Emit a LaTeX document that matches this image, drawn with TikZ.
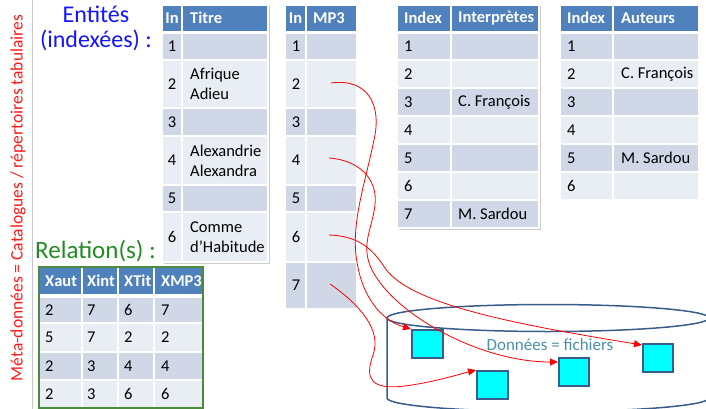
\documentclass[tikz,border=0pt]{standalone}
\usepackage{fontspec}
\setmainfont{Carlito}
\usetikzlibrary{arrows.meta}
\definecolor{hdr}{HTML}{4F81BD}
\definecolor{dk}{HTML}{D0D8E8}
\definecolor{lt}{HTML}{E9EDF4}
\definecolor{cylc}{HTML}{385D8A}
\definecolor{datac}{HTML}{4A90A8}
\definecolor{relgreen}{HTML}{228B22}
\definecolor{entblue}{HTML}{1414FF}
\definecolor{metared}{HTML}{FF1A1A}
\definecolor{tabgreen}{HTML}{4E8A3E}
\definecolor{filecyan}{HTML}{00FFFF}
\newcommand\mycell[5]{\path[fill=#5,draw=white,line width=1.5pt] (#1,#3) rectangle (#2,#4);}
\begin{document}
\begin{tikzpicture}[x=1pt,y=-1pt,
  tt/.style={inner sep=0pt,anchor=west,align=left,font=\fontsize{16.5}{20}\selectfont},
  tc/.style={inner sep=0pt,anchor=center,font=\fontsize{16.5}{20}\selectfont},
  th/.style={inner sep=0pt,anchor=west,font=\fontsize{16.5}{20}\selectfont\bfseries,text=white},
  thc/.style={th,anchor=center},
  big/.style={inner sep=0pt,font=\fontsize{24}{24.5}\selectfont},
  arr/.style={red,line width=0.8pt,-{Triangle[length=8pt,width=7pt]}},
  filebox/.style={draw=cylc,fill=filecyan,line width=1.5pt,minimum width=30pt,minimum height=28pt,inner sep=0pt,anchor=north west},
]
\useasboundingbox (0,0) rectangle (706,409);

% left labels
\draw[gray!45,line width=1pt] (32,0) -- (32,409);
\node[rotate=90,text=metared,inner sep=0pt,font=\fontsize{17.5}{20}\selectfont] (meta) at (18,198) {Méta-données = Catalogues / répertoires tabulaires};
\node[big,text=entblue,align=center] (ent) at (96,28.5) {Entités\\(indexées) :};
\node[big,text=relgreen,anchor=base west,font=\fontsize{25}{24}\selectfont] (rel) at (35,258) {Relation(s) :};

% Titre table
\fill[gray!40] (163.5,6.5) rectangle (269.5,263.5);
\mycell{162}{182}{5}{31.5}{hdr}
\mycell{182}{268}{5}{31.5}{hdr}
\node[thc] (tih) at (172,18) {In};
\node[th] (tth) at (190,18) {Titre};
\foreach \ya/\yb/\cl/\n/\t in {33/60/dk/1/{},60/108/lt/2/{Afrique\\Adieu},108/136/dk/3/{},136/185/lt/4/{Alexandrie\\Alexandra},185/212/dk/5/{},212/262/lt/6/{Comme\\d’Habitude}}{
  \mycell{162}{182}{\ya}{\yb}{\cl}
  \mycell{182}{268}{\ya}{\yb}{\cl}
  \node[tc] (ti\n) at (172,{(\ya+\yb)/2}) {\n};
  \node[tt] (tt\n) at (190,{(\ya+\yb)/2}) {\t};
}

% MP3 table
\mycell{285}{306}{5}{31.5}{hdr}
\mycell{306}{357}{5}{31.5}{hdr}
\node[thc] (mih) at (295.5,18) {In};
\node[th] (mmh) at (313,18) {MP3};
\foreach \ya/\yb/\cl/\n in {33/60/dk/1,60/108/lt/2,108/136/dk/3,136/185/lt/4,185/212/dk/5,212/262/lt/6,262/309/dk/7}{
  \mycell{285}{306}{\ya}{\yb}{\cl}
  \mycell{306}{357}{\ya}{\yb}{\cl}
  \node[tc] (mi\n) at (296,{(\ya+\yb)/2}) {\n};
}
\coordinate (s2) at (331,83);
\coordinate (s4) at (329,158);
\coordinate (s6) at (329,235);
\coordinate (s7) at (330,284);

% Interpretes table
\fill[gray!40] (398.5,6.5) rectangle (540.5,229.5);
\mycell{397}{451}{5}{31.5}{hdr}
\mycell{451}{539}{5}{31.5}{hdr}
\node[th] (iih) at (404,18) {Index};
\node[th] (inh) at (458,18) {Interprètes};
\foreach \ya/\yb/\cl/\n/\t in {33/60/dk/1/{},60/88/lt/2/{},88/116/dk/3/{C. François},116/144/lt/4/{},144/172/dk/5/{},172/200/lt/6/{},200/228/dk/7/{M. Sardou}}{
  \mycell{397}{451}{\ya}{\yb}{\cl}
  \mycell{451}{539}{\ya}{\yb}{\cl}
  \node[tt] (ii\n) at (404,{(\ya+\yb)/2}) {\n};
  \node[tt] (in\n) at (458,{(\ya+\yb)/2}) {\t};
}

% Auteurs table
\mycell{560}{613}{5}{31.5}{hdr}
\mycell{613}{699}{5}{31.5}{hdr}
\node[th] (aih) at (567,18) {Index};
\node[th] (anh) at (621,18) {Auteurs};
\foreach \ya/\yb/\cl/\n/\t in {33/60/dk/1/{},60/88/lt/2/{C. François},88/116/dk/3/{},116/144/lt/4/{},144/172/dk/5/{M. Sardou},172/200/lt/6/{}}{
  \mycell{560}{613}{\ya}{\yb}{\cl}
  \mycell{613}{699}{\ya}{\yb}{\cl}
  \node[tt] (ai\n) at (567,{(\ya+\yb)/2}) {\n};
  \node[tt] (an\n) at (621,{(\ya+\yb)/2}) {\t};
}

% Relation table
\mycell{39}{82}{267}{295}{hdr}
\mycell{82}{118}{267}{295}{hdr}
\mycell{118}{154}{267}{295}{hdr}
\mycell{154}{203}{267}{295}{hdr}
\node[th] (rh1) at (45,281) {Xaut};
\node[th] (rh2) at (87,281) {Xint};
\node[th] (rh3) at (124,281) {XTit};
\node[th] (rh4) at (161,281) {XMP3};
\foreach \ya/\yb/\cl/\va/\vb/\vc/\vd [count=\r] in {297/323/dk/2/7/6/7,323/352/lt/5/7/2/2,352/380/dk/2/3/4/4,380/408/lt/2/3/6/6}{
  \mycell{39}{82}{\ya}{\yb}{\cl}
  \mycell{82}{118}{\ya}{\yb}{\cl}
  \mycell{118}{154}{\ya}{\yb}{\cl}
  \mycell{154}{203}{\ya}{\yb}{\cl}
  \node[tt] (ra\r) at (45,{(\ya+\yb)/2}) {\va};
  \node[tt] (rb\r) at (87,{(\ya+\yb)/2}) {\vb};
  \node[tt] (rc\r) at (124,{(\ya+\yb)/2}) {\vc};
  \node[tt] (rd\r) at (161,{(\ya+\yb)/2}) {\vd};
}
\draw[tabgreen,line width=1.5pt] (39,267) rectangle (203,408);

% data store
\draw[cylc,line width=1.5pt] (548,318) ellipse [x radius=161pt,y radius=13.5pt];
\draw[cylc,line width=1.5pt] (387,318) -- (387,398) arc[start angle=180,end angle=360,x radius=161pt,y radius=13.5pt] -- (709,318);
\node[text=datac,inner sep=0pt,font=\fontsize{17}{20}\selectfont] (data) at (550,345) {Données = fichiers};
\node[filebox,minimum width=31pt] (sq1) at (411,329) {};
\node[filebox,minimum width=31pt] (sq2) at (476,370) {};
\node[filebox] (sq3) at (558,357) {};
\node[filebox] (sq4) at (642,343) {};

% links
\draw[arr] (s2) .. controls (368,78) and (382,105) .. (374,140) .. controls (366,180) and (350,225) .. (357,262) .. controls (362,295) and (380,320) .. (sq1.north west);
\draw[arr] (s4) .. controls (358,160) and (378,178) .. (375,205) .. controls (372,230) and (360,245) .. (372,270) .. controls (395,315) and (480,362) .. ([yshift=-5pt]sq3.north west);
\draw[arr] (s6) .. controls (358,236) and (372,248) .. (385,268) .. controls (410,305) and (520,325) .. ([yshift=-2pt]sq4.north west);
\draw[arr] (s7) .. controls (360,305) and (382,330) .. (373,355) .. controls (364,380) and (372,390) .. (405,386) .. controls (435,382) and (460,374) .. (sq2.north west);
\end{tikzpicture}
\end{document}
